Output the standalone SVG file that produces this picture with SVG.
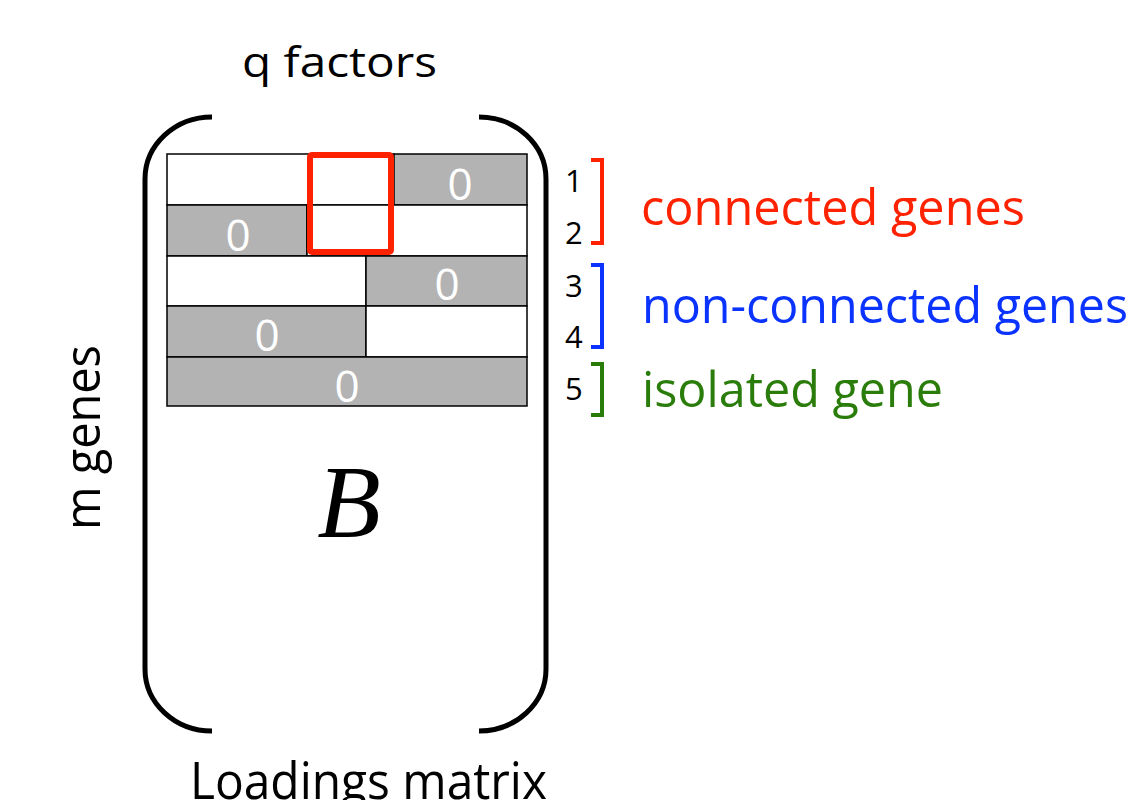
<svg xmlns="http://www.w3.org/2000/svg" width="1134" height="800" viewBox="0 0 1134 800">
<style>
  .lbl { font-family: "Open Sans", "Liberation Sans", sans-serif; }
  .cell { stroke: #000; stroke-width: 1.5; }
  .g { fill: #b3b3b3; }
  .w { fill: #ffffff; }
  .zero { font-family: "Open Sans", "Liberation Sans", sans-serif; font-size: 44px; fill: #ffffff; text-anchor: middle; }
  .num { font-family: "Open Sans", "Liberation Sans", sans-serif; font-size: 31px; fill: #000; }
  .paren { fill: none; stroke: #000; stroke-width: 5; }
  .brk { fill: none; stroke-width: 4; }
</style>
<rect width="1134" height="800" fill="#ffffff"/>

<g id="title-q">
  <text class="lbl" x="242" y="77" font-size="42" textLength="195" lengthAdjust="spacingAndGlyphs">q factors</text>
</g>
<g id="title-m">
  <text class="lbl" transform="translate(100,530) rotate(-90)" x="0" y="0" font-size="50" textLength="185" lengthAdjust="spacingAndGlyphs">m genes</text>
</g>
<g id="title-loadings">
  <text class="lbl" x="190" y="799" font-size="52" textLength="357" lengthAdjust="spacingAndGlyphs">Loadings matrix</text>
</g>

<g id="matrix">
  <path class="paren" d="M212,117 A67,62 0 0 0 145,179 V669 A67,62 0 0 0 212,731"/>
  <path class="paren" d="M479,117 A67,62 0 0 1 546,179 V669 A67,62 0 0 1 479,731"/>

  <g id="row1">
    <rect class="cell w" x="167" y="154" width="227" height="51"/>
    <rect class="cell g" x="394" y="154" width="133" height="51"/>
    <text class="zero" x="460" y="200">0</text>
  </g>
  <g id="row2">
    <rect class="cell g" x="167" y="205" width="140" height="51"/>
    <rect class="cell w" x="307" y="205" width="220" height="51"/>
    <text class="zero" x="238" y="251">0</text>
  </g>
  <g id="row3">
    <rect class="cell w" x="167" y="256" width="199" height="50"/>
    <rect class="cell g" x="366" y="256" width="161" height="50"/>
    <text class="zero" x="447" y="300">0</text>
  </g>
  <g id="row4">
    <rect class="cell g" x="167" y="306" width="199" height="51"/>
    <rect class="cell w" x="366" y="306" width="161" height="51"/>
    <text class="zero" x="267" y="351">0</text>
  </g>
  <g id="row5">
    <rect class="cell g" x="167" y="357" width="360" height="49"/>
    <text class="zero" x="347" y="402">0</text>
  </g>
  <g id="highlight">
    <rect x="310" y="155" width="81" height="97" rx="2" fill="none" stroke="#ff2200" stroke-width="6"/>
  </g>

  <g id="B">
    <text x="349" y="537" font-family="'Liberation Serif', 'DejaVu Serif', serif" font-style="italic" font-size="104" text-anchor="middle">B</text>
  </g>
</g>

<g id="row-numbers">
  <text class="num" x="565" y="192">1</text>
  <text class="num" x="565" y="244">2</text>
  <text class="num" x="565" y="297">3</text>
  <text class="num" x="565" y="348">4</text>
  <text class="num" x="565" y="400">5</text>
</g>

<g id="connectors">
  <path class="brk" stroke="#ff2200" d="M591,160 H602 V243 H591"/>
  <path class="brk" stroke="#0a33ff" d="M591,265 H602 V347 H591"/>
  <path class="brk" stroke="#2b7d0b" d="M591,364 H602 V415 H591"/>
</g>

<g id="legend-connected">
  <text class="lbl" x="641" y="225" font-size="50" fill="#ff2200" textLength="384" lengthAdjust="spacingAndGlyphs">connected genes</text>
</g>
<g id="legend-nonconnected">
  <text class="lbl" x="642" y="323" font-size="50" fill="#0a33ff" textLength="486" lengthAdjust="spacingAndGlyphs">non-connected genes</text>
</g>
<g id="legend-isolated">
  <text class="lbl" x="642" y="407" font-size="50" fill="#2b7d0b" textLength="301" lengthAdjust="spacingAndGlyphs">isolated gene</text>
</g>
</svg>
